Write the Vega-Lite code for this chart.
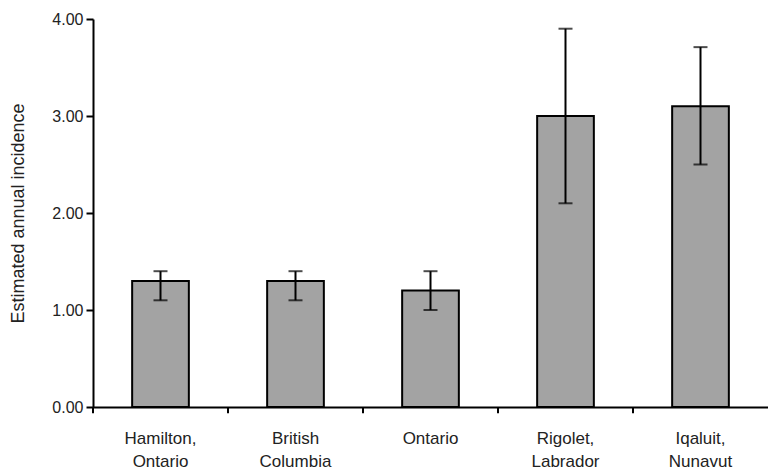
{
  "$schema": "https://vega.github.io/schema/vega-lite/v6.json",
  "width": 675,
  "height": 388,
  "autosize": {"type": "none"},
  "padding": {"left": 93, "top": 19, "right": 0, "bottom": 63},
  "background": "white",
  "config": {
    "view": {"stroke": null},
    "font": "Liberation Sans",
    "axis": {
      "domainColor": "black",
      "domainWidth": 2,
      "tickColor": "black",
      "tickWidth": 2,
      "labelColor": "#222222",
      "titleColor": "#222222",
      "labelFont": "Liberation Sans",
      "titleFont": "Liberation Sans",
      "grid": false
    }
  },
  "data": {
    "values": [
      {"site": "Hamilton, Ontario", "incidence": 1.3, "lo": 1.1, "hi": 1.4},
      {"site": "British Columbia", "incidence": 1.3, "lo": 1.1, "hi": 1.4},
      {"site": "Ontario", "incidence": 1.2, "lo": 1.0, "hi": 1.4},
      {"site": "Rigolet, Labrador", "incidence": 3.0, "lo": 2.1, "hi": 3.9},
      {"site": "Iqaluit, Nunavut", "incidence": 3.1, "lo": 2.5, "hi": 3.71}
    ]
  },
  "resolve": {"scale": {"x": "independent"}, "axis": {"x": "independent"}},
  "layer": [
    {
      "mark": {"type": "rule", "color": "black", "strokeWidth": 2},
      "encoding": {
        "x": {
          "field": "site",
          "type": "nominal",
          "sort": null,
          "bandPosition": 0,
          "scale": {"paddingInner": 0, "paddingOuter": 0},
          "axis": null
        },
        "y": {"datum": 0, "type": "quantitative"},
        "y2": {"datum": -0.065}
      }
    },
    {
      "layer": [
        {
          "mark": {"type": "bar", "fill": "#a3a3a3", "stroke": "black", "strokeWidth": 2},
          "encoding": {
            "y": {
              "field": "incidence",
              "type": "quantitative",
              "scale": {"domain": [0, 4]},
              "axis": {
                "title": "Estimated annual incidence",
                "titleFontSize": 18,
                "titleFontWeight": "normal",
                "titlePadding": 24,
                "labelFontSize": 16,
                "values": [0, 1, 2, 3, 4],
                "format": ".2f",
                "tickSize": 7,
                "labelPadding": 3
              }
            }
          }
        },
        {
          "mark": {"type": "rule", "color": "black", "strokeWidth": 2},
          "encoding": {
            "y": {"field": "lo", "type": "quantitative"},
            "y2": {"field": "hi"}
          }
        },
        {
          "mark": {"type": "tick", "color": "black", "thickness": 2, "size": 14},
          "encoding": {"y": {"field": "lo", "type": "quantitative"}}
        },
        {
          "mark": {"type": "tick", "color": "black", "thickness": 2, "size": 14},
          "encoding": {"y": {"field": "hi", "type": "quantitative"}}
        }
      ],
      "encoding": {
        "x": {
          "field": "site",
          "type": "nominal",
          "sort": null,
          "scale": {"paddingInner": 0.58, "paddingOuter": 0.29},
          "axis": {
            "title": null,
            "labelAngle": 0,
            "labelFontSize": 17,
            "labelPadding": 23,
            "labelLineHeight": 23,
            "labelExpr": "split(datum.label, ' ')",
            "ticks": false
          }
        }
      }
    }
  ]
}
